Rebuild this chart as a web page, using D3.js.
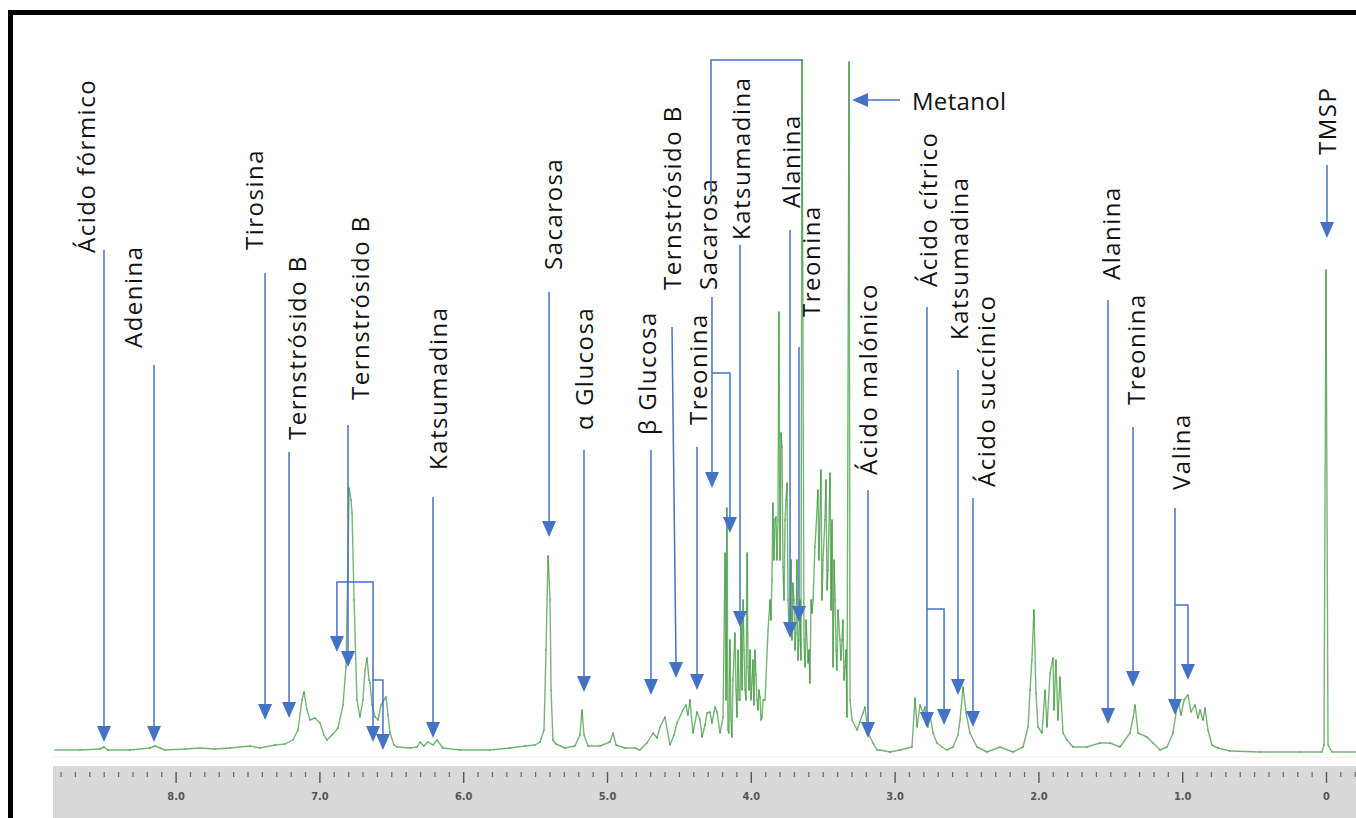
<!DOCTYPE html>
<html><head><meta charset="utf-8">
<script src="https://cdn.jsdelivr.net/npm/d3@7"></script>
<style>
html,body{margin:0;padding:0;background:#fff;}
svg{display:block;}
</style></head>
<body>
<svg id="chart" width="1356" height="818"></svg>
<script>
// ---------------- DATA ----------------
const tickValues = [8, 7, 6, 5, 4, 3, 2, 1, 0];
const tickLabels = ["8.0", "7.0", "6.0", "5.0", "4.0", "3.0", "2.0", "1.0", "0"];

// 1H NMR spectrum: [chemical shift (ppm), intensity (a.u.)]
const spectrum = [
 [8.839,2],[8.665,2],[8.526,3],[8.498,5],[8.470,2],[8.317,2],[8.178,4],[8.143,6],[8.108,4],[8.074,2],
 [7.935,3],[7.830,4],[7.726,3],[7.622,4],[7.483,6],[7.413,4],[7.309,7],[7.239,8],[7.184,12],[7.149,22],
 [7.121,52],[7.107,60],[7.086,42],[7.065,32],[7.031,34],[6.996,29],[6.968,17],[6.947,12],[6.912,17],[6.871,24],
 [6.836,47],[6.815,85],[6.801,192],[6.794,264],[6.780,252],[6.773,239],[6.759,152],[6.739,52],[6.718,35],[6.697,52],
 [6.683,82],[6.669,94],[6.655,72],[6.648,69],[6.634,47],[6.613,35],[6.592,32],[6.572,47],[6.551,52],[6.537,55],
 [6.523,37],[6.509,19],[6.481,7],[6.460,5],[6.370,4],[6.321,5],[6.300,10],[6.273,6],[6.245,10],[6.210,7],
 [6.182,12],[6.141,4],[6.022,2],[5.814,2],[5.675,4],[5.570,6],[5.501,7],[5.466,10],[5.438,22],[5.424,102],
 [5.410,196],[5.396,152],[5.389,62],[5.376,12],[5.355,8],[5.292,4],[5.223,6],[5.188,17],[5.174,42],[5.160,17],
 [5.132,6],[5.049,6],[4.979,10],[4.958,19],[4.937,7],[4.875,4],[4.805,4],[4.771,2],[4.722,9],[4.680,19],
 [4.652,14],[4.631,25],[4.597,35],[4.562,7],[4.534,17],[4.513,29],[4.472,42],[4.451,47],[4.437,37],[4.423,52],
 [4.402,19],[4.374,40],[4.353,32],[4.339,15],[4.318,27],[4.305,39],[4.284,40],[4.270,29],[4.249,45],[4.235,40],
 [4.214,19],[4.193,35],[4.179,199],[4.172,52],[4.166,244],[4.159,22],[4.152,19],[4.145,112],[4.138,32],[4.131,15],
 [4.124,72],[4.110,119],[4.103,62],[4.096,35],[4.089,102],[4.082,52],[4.075,52],[4.068,132],[4.061,62],[4.054,152],
 [4.047,102],[4.040,62],[4.033,52],[4.026,199],[4.019,85],[4.012,62],[4.005,102],[3.999,52],[3.992,69],[3.985,92],
 [3.978,47],[3.971,102],[3.964,77],[3.957,52],[3.950,42],[3.943,62],[3.936,55],[3.929,32],[3.922,35],[3.915,52],
 [3.901,52],[3.880,122],[3.866,152],[3.860,132],[3.853,172],[3.846,249],[3.839,192],[3.832,232],[3.825,235],[3.818,192],
 [3.811,232],[3.804,440],[3.797,192],[3.790,319],[3.783,305],[3.776,185],[3.769,152],[3.762,232],[3.755,252],[3.748,269],
 [3.741,152],[3.734,119],[3.727,139],[3.720,192],[3.714,112],[3.707,169],[3.700,152],[3.693,102],[3.686,119],[3.679,192],
 [3.672,92],[3.665,112],[3.658,152],[3.651,92],[3.644,692],[3.630,112],[3.623,85],[3.616,132],[3.602,89],[3.595,102],
 [3.589,69],[3.581,152],[3.574,139],[3.567,152],[3.554,205],[3.547,222],[3.533,262],[3.526,192],[3.512,282],[3.505,152],
 [3.498,192],[3.484,232],[3.477,272],[3.470,162],[3.463,182],[3.449,279],[3.442,142],[3.435,232],[3.428,85],[3.421,192],
 [3.414,152],[3.407,102],[3.401,82],[3.394,142],[3.380,112],[3.373,92],[3.366,112],[3.359,132],[3.352,72],[3.345,85],
 [3.338,102],[3.331,35],[3.317,690],[3.310,52],
 [3.296,32],[3.261,22],[3.241,30],[3.220,39],[3.206,45],[3.185,19],[3.150,9],[3.122,2],[3.102,2],[3.032,0],
 [2.962,2],[2.879,5],[2.858,54],[2.844,25],[2.823,47],[2.802,39],[2.789,45],[2.768,25],[2.754,37],[2.733,19],
 [2.705,9],[2.670,5],[2.636,2],[2.594,5],[2.559,17],[2.545,32],[2.524,65],[2.503,39],[2.476,19],[2.427,5],
 [2.357,0],[2.267,5],[2.177,0],[2.107,5],[2.072,25],[2.058,62],[2.045,92],[2.031,142],[2.017,59],[2.003,25],
 [1.975,19],[1.954,62],[1.940,25],[1.919,79],[1.898,94],[1.892,42],[1.878,92],[1.864,32],[1.850,75],[1.829,19],
 [1.801,12],[1.759,5],[1.662,5],[1.572,9],[1.502,9],[1.433,5],[1.363,19],[1.342,34],[1.328,47],[1.307,19],
 [1.245,15],[1.203,9],[1.154,2],[1.106,5],[1.064,19],[1.029,52],[1.008,37],[0.987,52],[0.960,57],[0.939,40],
 [0.911,47],[0.890,34],[0.876,42],[0.855,32],[0.841,44],[0.821,22],[0.793,7],[0.751,4],[0.668,1],[0.459,0],
 [0.181,0],[0.028,0],[0.014,7],[0.000,482],[-0.014,7],[-0.042,0],[-0.209,0]
];

// Annotations (vertical labels with arrows)
const labelNames = ["Ácido fórmico","Adenina","Tirosina","Ternstrósido B","Ternstrósido B","Katsumadina",
  "Sacarosa","α Glucosa","β Glucosa","Ternstrósido B","Treonina","Sacarosa","Katsumadina","Alanina","Treonina",
  "Ácido malónico","Ácido cítrico","Katsumadina","Ácido succínico","Alanina","Treonina","Valina","TMSP"];
const labelPpm   = [8.630,8.303,7.455,7.156,6.718,6.182,5.382,5.160,4.722,4.548,4.374,4.298,4.075,3.727,3.588,3.185,2.768,2.559,2.371,1.502,1.328,1.015,0.000];
const labelStart = [499,404,502,312,352,282,482,322,317,462,327,462,512,544,435,277,465,412,265,472,347,262,597];
const arrowTopPpm = [8.498,8.150,7.378,7.211,6.801,6.210,5.403,5.160,4.694,4.548,4.374,4.270,4.075,3.727,3.665,3.185,2.775,2.559,2.455,1.516,1.342,1.050,-0.007];
const arrowTipPpm = [8.498,8.150,7.378,7.211,6.801,6.210,5.403,5.160,4.694,4.520,4.374,4.270,4.075,3.727,3.665,3.185,2.775,2.559,2.455,1.516,1.342,1.050,-0.007];
const arrowTop   = [502,387,479,300,327,255,460,302,302,425,305,455,507,522,405,262,445,382,254,452,325,244,587];
const arrowTip   = [10,10,32,34,85,14,215,60,57,74,62,264,125,114,130,14,24,57,25,28,65,37,514];

// Branches: from a label line at x1, horizontal at level, to x2, then down to tip
const branchX1    = [6.801,6.801,6.627,4.270,2.775,1.050];
const branchX2    = [6.878,6.627,6.558,4.145,2.656,0.960];
const branchLevel = [170,170,72,379,143,147];
const branchTip   = [100,10,2,219,27,72];

// Sacarosa bracket to the 3.64 ppm peak
const bracketPpm = [4.277, 4.277, 3.637];
const bracketInt = [557, 692, 692];

// Metanol horizontal arrow
const metanolLabel = "Metanol";
const metanolFromPpm = 2.962, metanolTipPpm = 3.296, metanolInt = 652, metanolTextPpm = 2.879;

// ---------------- CHART ----------------
const svg = d3.select("#chart");
const x = d3.scaleLinear().domain([8, 0]).range([175.6, 1326]);
const y = d3.scaleLinear().domain([0, 700]).range([752, 52]);
const blue = "#4472c4";

// frame
svg.append("rect").attr("x", 8).attr("y", 10).attr("width", 1348).attr("height", 5).attr("fill", "#000");
svg.append("rect").attr("x", 8).attr("y", 10).attr("width", 5).attr("height", 808).attr("fill", "#000");

// axis band
svg.append("rect").attr("x", 53).attr("y", 766).attr("width", 1303).attr("height", 52).attr("fill", "#d9d9d9");
svg.append("line").attr("x1", 53).attr("x2", 1356).attr("y1", 757).attr("y2", 757).attr("stroke", "#eeeeee");

const minorTicks = d3.range(-2, 89).map(d => d / 10).filter(d => !tickValues.includes(d));
const axisG = svg.append("g").attr("transform", "translate(0,772)");
axisG.call(d3.axisBottom(x).tickValues(minorTicks).tickSize(5).tickFormat(""))
  .call(g => g.select(".domain").remove())
  .call(g => g.selectAll("line").attr("stroke", "#666").attr("stroke-width", 1.2));
const majorG = svg.append("g").attr("transform", "translate(0,772)");
majorG.call(d3.axisBottom(x).tickValues(tickValues).tickSize(11).tickPadding(9)
    .tickFormat((d, i) => tickLabels[i]))
  .call(g => g.select(".domain").remove())
  .call(g => g.selectAll("line").attr("stroke", "#555").attr("stroke-width", 1.4))
  .call(g => g.selectAll("text").attr("fill", "#555").attr("font-size", 11)
     .attr("font-weight", "bold")
     .attr("font-family", "'Liberation Sans Narrow','DejaVu Sans Condensed',sans-serif"));

// spectrum as individual segments so dense regions darken like the original
const segs = d3.pairs(spectrum);
svg.append("g").selectAll("line").data(segs).join("line")
  .attr("x1", d => x(d[0][0])).attr("y1", d => y(d[0][1]))
  .attr("x2", d => x(d[1][0])).attr("y2", d => y(d[1][1]))
  .attr("stroke", "rgb(30,135,30)").attr("stroke-opacity", 0.62)
  .attr("stroke-width", 1.4).attr("stroke-linecap", "round");

// arrows
const ah = 16, aw = 7;
function head(g, px, py) {
  g.append("path").attr("d", `M${px},${py}L${px - aw},${py - ah}L${px + aw},${py - ah}Z`).attr("fill", blue);
}
const ann = svg.append("g");
labelNames.forEach((name, i) => {
  const x0 = x(arrowTopPpm[i]), x1 = x(arrowTipPpm[i]);
  ann.append("line").attr("x1", x0).attr("y1", y(arrowTop[i]))
    .attr("x2", x1).attr("y2", y(arrowTip[i]) - ah + 2)
    .attr("stroke", blue).attr("stroke-width", 1.5);
  head(ann, x1, y(arrowTip[i]));
  ann.append("text")
    .attr("transform", `translate(${x(labelPpm[i])},${y(labelStart[i])}) rotate(-90)`)
    .attr("dominant-baseline", "central")
    .attr("font-family", "'Open Sans',sans-serif").attr("font-size", 24)
    .attr("letter-spacing", 1.5).attr("fill", "#111")
    .text(name);
});
branchX1.forEach((b, i) => {
  const xa = x(b), xb = x(branchX2[i]), yl = y(branchLevel[i]);
  ann.append("path").attr("d", `M${xa},${yl}H${xb}V${y(branchTip[i]) - ah + 2}`)
    .attr("fill", "none").attr("stroke", blue).attr("stroke-width", 1.5);
  head(ann, xb, y(branchTip[i]));
});
ann.append("path").attr("d", d3.line()(bracketPpm.map((p, i) => [x(p), y(bracketInt[i])])))
  .attr("fill", "none").attr("stroke", blue).attr("stroke-width", 1.5);

// Metanol
const my = y(metanolInt);
ann.append("line").attr("x1", x(metanolFromPpm)).attr("x2", x(metanolTipPpm) + ah - 2)
  .attr("y1", my).attr("y2", my).attr("stroke", blue).attr("stroke-width", 1.5);
ann.append("path").attr("d", `M${x(metanolTipPpm)},${my}L${x(metanolTipPpm) + ah},${my - aw}L${x(metanolTipPpm) + ah},${my + aw}Z`).attr("fill", blue);
ann.append("text").attr("x", x(metanolTextPpm)).attr("y", my).attr("dominant-baseline", "central")
  .attr("font-family", "'Open Sans',sans-serif").attr("font-size", 24).attr("letter-spacing", 0.3)
  .attr("fill", "#111").text(metanolLabel);
</script>
</body></html>
